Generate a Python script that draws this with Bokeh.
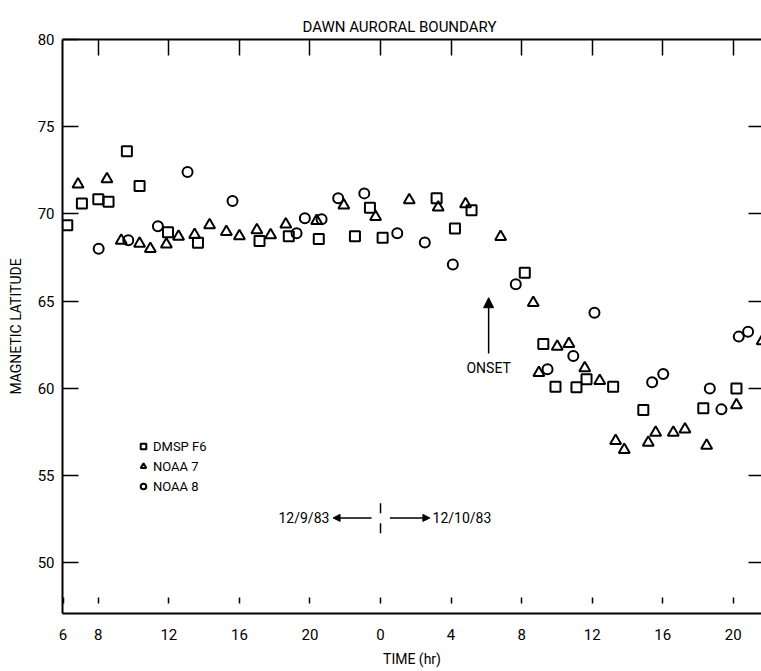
from bokeh.plotting import figure
from bokeh.models import (LinearAxis, FixedTicker, Range1d, Legend, LegendItem,
                          Arrow, NormalHead, Label)
from bokeh.embed import file_html
from bokeh.resources import INLINE

FONT = "Roboto"

# ---- data (time in hours from 0 h on 12/9/83; 24 = 0 h on 12/10/83) ----
dmsp_t = [6.24, 7.07, 8.0, 8.58, 9.62, 10.34, 11.95, 13.65, 17.14, 18.8, 20.5,
          22.55, 23.4, 24.12, 27.18, 28.22, 29.16, 32.18, 33.23, 33.92, 35.11,
          35.68, 37.19, 38.9, 42.3, 44.18]
dmsp_lat = [69.35, 70.6, 70.85, 70.7, 73.6, 71.6, 68.95, 68.35, 68.45, 68.73, 68.56,
            68.73, 70.36, 68.64, 70.9, 69.17, 70.22, 66.63, 62.55, 60.1, 60.07,
            60.53, 60.1, 58.77, 58.86, 60.0]

noaa7_t = [6.85, 8.49, 9.3, 10.34, 10.95, 11.86, 12.55, 13.46, 14.31, 15.26, 16.0,
           16.99, 17.77, 18.63, 20.38, 21.92, 23.72, 25.63, 27.27, 28.82, 30.81,
           32.66, 32.98, 34.02, 34.68, 35.58, 36.43, 37.33, 37.82, 39.18, 39.6,
           40.6, 41.26, 42.49, 44.18, 45.64]
noaa7_lat = [71.7, 72.0, 68.47, 68.3, 68.0, 68.26, 68.7, 68.8, 69.36, 68.98, 68.73,
             69.08, 68.79, 69.4, 69.6, 70.5, 69.84, 70.8, 70.38, 70.57, 68.69,
             64.91, 60.9, 62.4, 62.55, 61.16, 60.43, 57.0, 56.48, 56.9, 57.47,
             57.47, 57.66, 56.72, 59.05, 62.72]

noaa8_t = [8.02, 9.7, 11.38, 13.06, 15.61, 19.24, 19.71, 20.66, 21.6, 23.08, 24.95,
           26.51, 28.1, 31.67, 33.47, 34.93, 36.13, 39.4, 40.03, 42.67, 43.33,
           44.31, 44.84]
noaa8_lat = [68.0, 68.5, 69.3, 72.4, 70.74, 68.9, 69.75, 69.7, 70.9, 71.18, 68.9,
             68.37, 67.11, 65.97, 61.1, 61.86, 64.34, 60.35, 60.83, 60.0, 58.8,
             62.97, 63.25]

x_ticks = [6, 8, 12, 16, 20, 24, 28, 32, 36, 40, 44]
x_tick_labels = ["6", "8", "12", "16", "20", "0", "4", "8", "12", "16", "20"]
y_ticks = [50, 55, 60, 65, 70, 75, 80]

# annotation positions
onset_x, onset_y0, onset_y1, onset_label_y = 30.13, 62.0, 65.2, 61.2
day_x, day_y0, day_y1, day_text_y = 24.0, 51.7, 53.8, 52.58

p = figure(width=761, height=671, output_backend="svg", toolbar_location=None,
           x_range=Range1d(5.97, 45.6), y_range=Range1d(47.1, 80),
           min_border_left=62, min_border_right=0, min_border_top=39,
           min_border_bottom=58, x_axis_location=None, y_axis_location=None)
p.outline_line_color = None
p.xgrid.visible = False
p.ygrid.visible = False
p.background_fill_color = "white"
p.border_fill_color = "white"

p.title.text = "DAWN AURORAL BOUNDARY"
p.title.align = "left"
p.title.offset = 240
p.title.text_font = FONT
p.title.text_font_size = "15px"
p.title.text_font_style = "normal"
p.title.text_color = "black"
p.title.standoff = 7

def style_axis(ax, tick_in):
    ax.major_tick_in = tick_in
    ax.major_tick_out = 0
    ax.minor_tick_line_color = None
    ax.axis_line_width = 2
    ax.axis_line_color = "black"
    ax.major_tick_line_width = 1.5
    ax.major_tick_line_color = "black"
    ax.major_label_text_font = FONT
    ax.major_label_text_font_size = "15px"
    ax.major_label_text_color = "black"
    ax.axis_label_text_font = FONT
    ax.axis_label_text_font_style = "normal"
    ax.axis_label_text_font_size = "14px"
    ax.axis_label_text_color = "black"

def hide_labels(ax):
    ax.major_label_text_color = None
    ax.major_label_text_font_size = "1px"
    ax.major_label_standoff = 0

left = LinearAxis(ticker=FixedTicker(ticks=y_ticks), axis_label="MAGNETIC LATITUDE")
style_axis(left, 16)
left.major_label_standoff = 8
left.axis_label_standoff = 11
p.add_layout(left, "left")

bottom = LinearAxis(ticker=FixedTicker(ticks=x_ticks), axis_label="TIME (hr)")
style_axis(bottom, 16)
bottom.major_label_overrides = {t: l for t, l in zip(x_ticks, x_tick_labels)}
bottom.major_label_standoff = 15
bottom.axis_label_standoff = 8
bottom.major_tick_line_dash = "0 10 6"
p.add_layout(bottom, "below")

top = LinearAxis(ticker=FixedTicker(ticks=x_ticks[1:]))
style_axis(top, 16)
hide_labels(top)
p.add_layout(top, "above")

right = LinearAxis(ticker=FixedTicker(ticks=y_ticks[:-1]))
style_axis(right, 13)
right.axis_line_color = None
hide_labels(right)
p.add_layout(right, "right")

kw = dict(fill_color=None, line_color="black", line_width=2)
r_sq = p.scatter(dmsp_t, dmsp_lat, marker="square", size=10, **kw)
r_tr = p.scatter(noaa7_t, noaa7_lat, marker="triangle", size=11, **kw)
r_ci = p.scatter(noaa8_t, noaa8_lat, marker="circle", size=10, **kw)

legend = Legend(items=[LegendItem(label="DMSP F6", renderers=[r_sq]),
                       LegendItem(label="NOAA 7", renderers=[r_tr]),
                       LegendItem(label="NOAA 8", renderers=[r_ci])],
                location=(74, 117), background_fill_alpha=0, border_line_color=None,
                padding=0, margin=0, spacing=0, glyph_width=14, glyph_height=20,
                label_height=20, label_standoff=3, label_text_font=FONT,
                label_text_font_size="13px", label_text_color="black")
p.add_layout(legend)

# ONSET arrow
p.add_layout(Arrow(end=NormalHead(size=10, fill_color="black", line_color="black"),
                   x_start=onset_x, y_start=onset_y0, x_end=onset_x, y_end=onset_y1,
                   line_width=1.5))
p.add_layout(Label(x=onset_x, y=onset_label_y, text="ONSET", text_font=FONT,
                   text_font_size="14px", text_align="center", text_baseline="middle",
                   text_color="black"))

# date separator
p.segment(x0=[day_x], y0=[day_y0], x1=[day_x], y1=[day_y1], line_color="black",
          line_width=1.5, line_dash="10 10")
p.add_layout(Arrow(end=NormalHead(size=7, fill_color="black", line_color="black"),
                   x_start=23.49, y_start=day_text_y, x_end=21.31, y_end=day_text_y,
                   line_width=1.5))
p.add_layout(Arrow(end=NormalHead(size=7, fill_color="black", line_color="black"),
                   x_start=24.53, y_start=day_text_y, x_end=26.8, y_end=day_text_y,
                   line_width=1.5))
p.add_layout(Label(x=21.1, y=day_text_y, text="12/9/83", text_font=FONT,
                   text_font_size="14px", text_align="right", text_baseline="middle",
                   text_color="black"))
p.add_layout(Label(x=26.95, y=day_text_y, text="12/10/83", text_font=FONT,
                   text_font_size="14px", text_align="left", text_baseline="middle",
                   text_color="black"))

open("out.html", "w").write(file_html(p, INLINE))
